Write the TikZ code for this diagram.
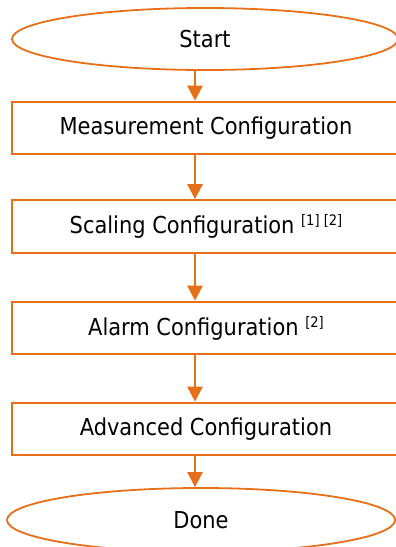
\documentclass[tikz,border=0pt]{standalone}
\usepackage{fontspec}
\setmainfont{DejaVu Sans Condensed}
\usetikzlibrary{shapes.geometric,arrows.meta}
\definecolor{flow}{RGB}{230,112,25}
\newcommand{\supnote}[1]{{\fontsize{14.5}{14.5}\selectfont\raisebox{8pt}{#1}}}
\tikzset{
  x=1pt, y=-1pt,
  every node/.style={font=\fontsize{23.3}{26}\selectfont, text=black},
  terminal/.style={ellipse, draw=flow, line width=1.8pt, inner sep=0pt},
  stepbox/.style={rectangle, draw=flow, line width=2.1pt, inner sep=0pt,
    minimum width=388pt, minimum height=52.5pt},
  arr/.style={draw=flow, line width=2.6pt, -{Triangle[width=15pt,length=15pt]}}
}
\begin{document}
\begin{tikzpicture}
\useasboundingbox (0,0) rectangle (396,547);
\clip (0,0) rectangle (396,547);
\node[terminal, minimum width=386pt, minimum height=62pt] (start) at (205,39) {Start};
\node[stepbox] (meas) at (206,128) {Measurement Configuration};
\node[stepbox] (scal) at (206,226.5) {Scaling Configuration \supnote{[1] [2]}};
\node[stepbox] (alarm) at (206,328) {Alarm Configuration \supnote{[2]}};
\node[stepbox] (adv) at (206,429) {Advanced Configuration};
\node[terminal, minimum width=388pt, minimum height=64pt] (done) at (201,520) {Done};
\coordinate (axis) at (195,0);
\draw[arr] (start.south -| axis) -- (meas.north -| axis);
\draw[arr] (meas.south -| axis) -- (scal.north -| axis);
\draw[arr] (scal.south -| axis) -- (alarm.north -| axis);
\draw[arr] (alarm.south -| axis) -- (adv.north -| axis);
\draw[arr] (adv.south -| axis) -- (done.north -| axis);
\end{tikzpicture}
\end{document}
